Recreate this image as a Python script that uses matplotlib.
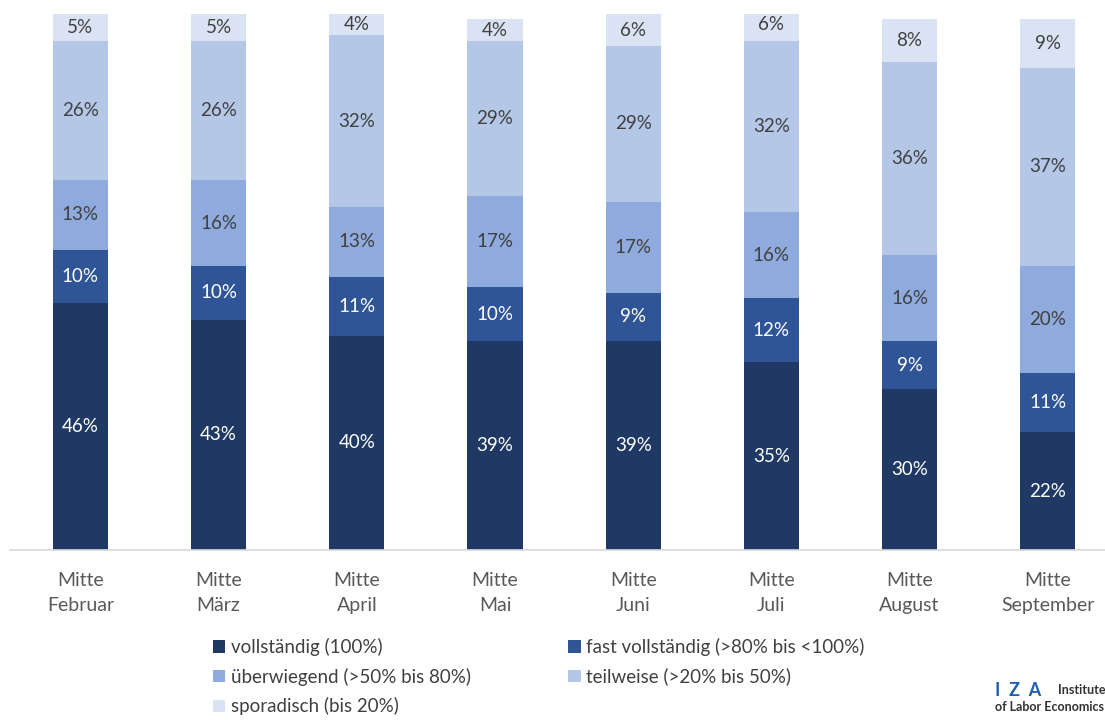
import matplotlib
matplotlib.use("Agg")
import matplotlib.pyplot as plt
from matplotlib.patches import Patch
import numpy as np

plt.rcParams['font.family'] = ['Lato', 'DejaVu Sans']

categories = ["Mitte\nFebruar", "Mitte\nMärz", "Mitte\nApril", "Mitte\nMai",
              "Mitte\nJuni", "Mitte\nJuli", "Mitte\nAugust", "Mitte\nSeptember"]
vollstaendig = [46, 43, 40, 39, 39, 35, 30, 22]
fast_vollstaendig = [10, 10, 11, 10, 9, 12, 9, 11]
ueberwiegend = [13, 16, 13, 17, 17, 16, 16, 20]
teilweise = [26, 26, 32, 29, 29, 32, 36, 37]
sporadisch = [5, 5, 4, 4, 6, 6, 8, 9]

series_names = ["vollständig (100%)", "fast vollständig (>80% bis <100%)",
                "überwiegend (>50% bis 80%)", "teilweise (>20% bis 50%)",
                "sporadisch (bis 20%)"]
series = [vollstaendig, fast_vollstaendig, ueberwiegend, teilweise, sporadisch]
colors = ["#203864", "#2f5597", "#8faadc", "#b4c7e7", "#dae3f3"]
text_colors = ["white", "white", "#404040", "#404040", "#404040"]

fig = plt.figure(figsize=(11.05, 7.2), dpi=100)
ax = fig.add_axes([0.009, 170/720, 0.998, 536/720])

x = np.arange(len(categories))
bottom = np.zeros(len(categories))
for vals, col, tc in zip(series, colors, text_colors):
    vals = np.array(vals, dtype=float)
    ax.bar(x, vals, bottom=bottom, width=0.4, color=col, edgecolor='none')
    for xi, b, v in zip(x, bottom, vals):
        ax.text(xi, b + v / 2, f"{int(v)}%", ha='center', va='center',
                fontsize=13.5, color=tc)
    bottom += vals

ax.set_xlim(-0.51, 7.47)
ax.set_ylim(0, 100)
for s in ['top', 'right', 'left']:
    ax.spines[s].set_visible(False)
ax.spines['bottom'].set_color('#d9d9d9')
ax.spines['bottom'].set_linewidth(1.2)
ax.set_yticks([])
ax.set_xticks(x)
ax.set_xticklabels(categories, fontsize=14, color='#595959', linespacing=1.55)
ax.tick_params(axis='x', length=0, pad=16)

handles = [Patch(facecolor=c, edgecolor='none') for c in colors]
order = [0, 2, 4, 1, 3]
fig.legend([handles[i] for i in order], [series_names[i] for i in order],
           ncol=2, loc='upper left', bbox_to_anchor=(213/1105, 1 - 638/720),
           frameon=False, fontsize=13.5, labelcolor='#404040',
           handlelength=0.65, handleheight=0.65, handletextpad=0.3,
           columnspacing=5.2, labelspacing=0.62, borderaxespad=0, borderpad=0)

fig.text(995/1105, 1 - 690/720, "I  Z  A", color='#1f5fae', fontsize=13,
         fontweight='bold', va='center', ha='left')
fig.text(1058/1105, 1 - 690/720, "Institute", color='#333333', fontsize=9,
         fontweight='bold', va='center', ha='left')
fig.text(995/1105, 1 - 707/720, "of Labor Economics", color='#333333', fontsize=9,
         fontweight='bold', va='center', ha='left')

fig.savefig("out.png", dpi=100, facecolor='white')
